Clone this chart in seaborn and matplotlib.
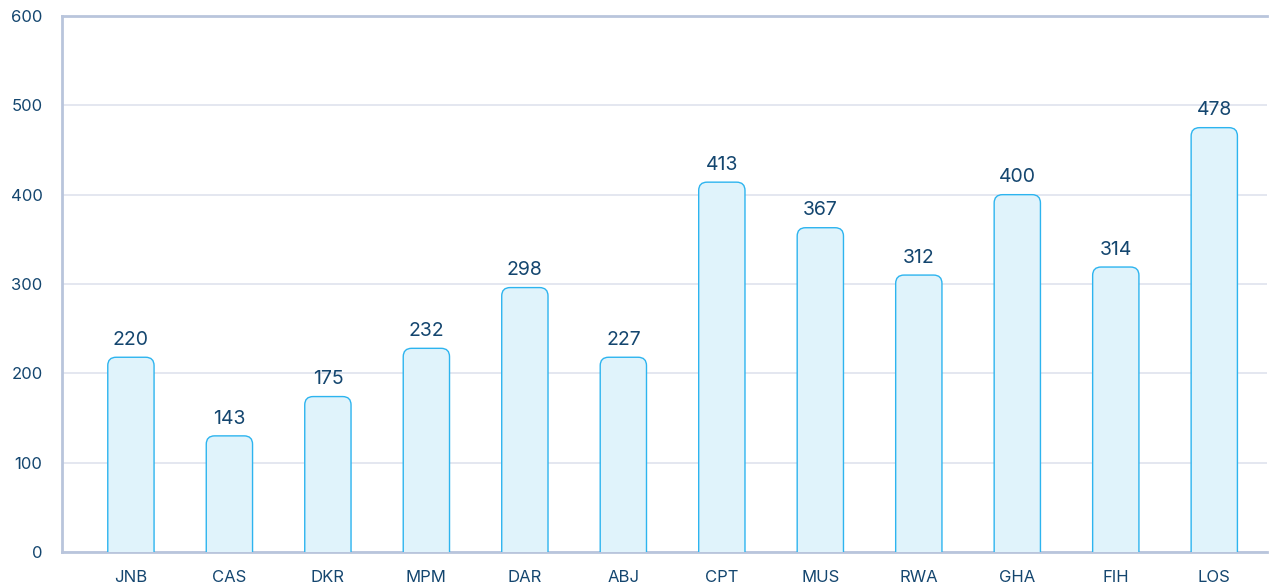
import seaborn as sns
import matplotlib.pyplot as plt
from matplotlib.patches import FancyBboxPatch
import pandas as pd

# data
codes = ["JNB", "CAS", "DKR", "MPM", "DAR", "ABJ", "CPT", "MUS", "RWA", "GHA", "FIH", "LOS"]
bar_heights = [218, 130, 174, 228, 296, 218, 414, 363, 310, 400, 319, 475]
bar_labels = ["220", "143", "175", "232", "298", "227", "413", "367", "312", "400", "314", "478"]
y_ticks = [0, 100, 200, 300, 400, 500, 600]

df = pd.DataFrame({"code": codes, "value": bar_heights})

sns.set_style("white")
plt.rcParams["font.family"] = ["Inter", "DejaVu Sans"]

text_col = "#14466f"
grid_col = "#dfe3ee"
spine_col = "#b9c5dc"
fill_col = "#e0f3fb"
edge_col = "#2db4ef"

fig = plt.figure(figsize=(12.7, 5.88), dpi=100)
ax = fig.add_axes([0.0488, 0.0612, 0.9492, 0.9116])

sns.barplot(data=df, x="code", y="value", color=fill_col, width=0.47, ax=ax)

ax.set_xlim(-0.7, 11.54)
ax.set_ylim(0, 600)

# swap plain bars for rounded ones
px_x = ax.bbox.width / (11.54 + 0.7)
px_y = ax.bbox.height / 600
aspect = px_x / px_y
for p in list(ax.patches):
    x0, w, h = p.get_x(), p.get_width(), p.get_height()
    p.remove()
    rb = FancyBboxPatch((x0, -20), w, h + 20,
                        boxstyle="round,pad=0,rounding_size=0.085",
                        mutation_aspect=aspect,
                        facecolor=fill_col, edgecolor=edge_col, linewidth=1.0,
                        zorder=3)
    ax.add_patch(rb)

for i, (h, lab) in enumerate(zip(bar_heights, bar_labels)):
    ax.annotate(lab, (i, h), xytext=(0, 6), textcoords="offset points",
                ha="center", va="bottom", fontsize=14, color=text_col, zorder=4)

ax.set_yticks(y_ticks)
ax.yaxis.grid(True, color=grid_col, linewidth=1.2, zorder=0)
ax.set_axisbelow(True)
ax.tick_params(axis="y", length=10, color=grid_col, width=1.2, labelsize=12,
               labelcolor=text_col, pad=4)
ax.tick_params(axis="x", length=0, labelsize=12, labelcolor=text_col, pad=13)
ax.set_xlabel("")
ax.set_ylabel("")

for side in ["left", "bottom", "top"]:
    ax.spines[side].set_color(spine_col)
    ax.spines[side].set_linewidth(2)
ax.spines["right"].set_visible(False)

fig.savefig("out.png", dpi=100)
plt.close()
